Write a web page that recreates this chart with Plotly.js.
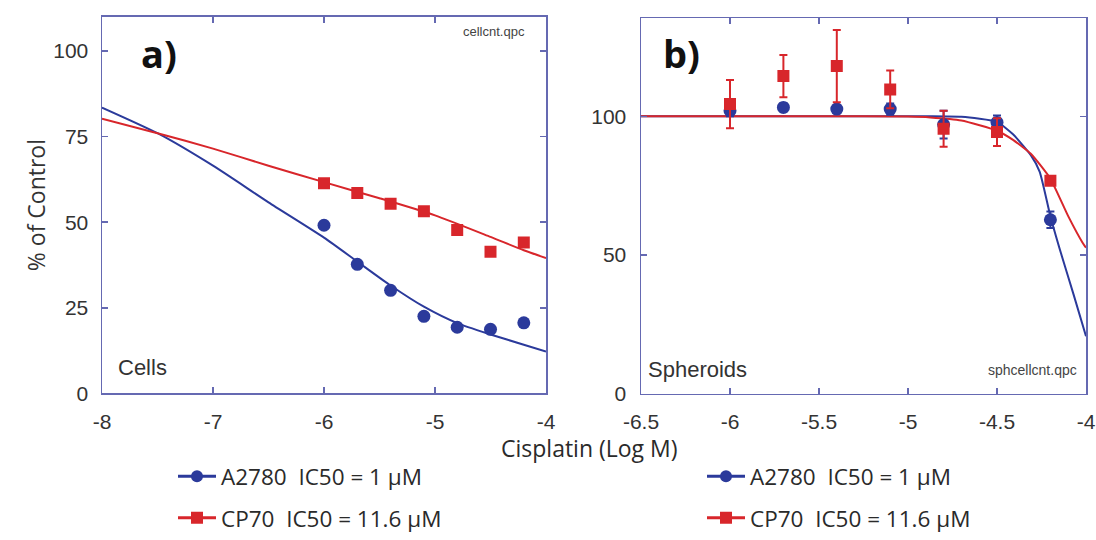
<!DOCTYPE html>
<html>
<head>
<meta charset="utf-8">
<script src="https://cdn.plot.ly/plotly-3.0.1.min.js"></script>
<style>html,body{margin:0;padding:0;background:#fff;}#chart{width:1096px;height:540px;}</style>
</head>
<body>
<div id="chart"></div>
<script>
// ---------- Panel a) Cells ----------
const doseA = [-6, -5.7, -5.4, -5.1, -4.8, -4.5, -4.2];
const cellsA2780 = [49.1, 37.7, 30.1, 22.5, 19.3, 18.7, 20.6];
const cellsCP70 = [61.4, 58.5, 55.4, 53.2, 47.7, 41.4, 44.1];
const fitCellsA2780X = [-8, -7.5, -7, -6.5, -6, -5.7, -5.4, -5.1, -4.8, -4.5, -4.2, -4];
const fitCellsA2780Y = [83.5, 76, 66.5, 55.8, 45.5, 38.5, 31.5, 25.3, 20.5, 17.2, 14.2, 12.2];
const fitCellsCP70X = [-8, -7.5, -7, -6.5, -6, -5.5, -5, -4.5, -4.2, -4];
const fitCellsCP70Y = [80.2, 76, 71.5, 66.5, 61.7, 57, 52, 45.7, 41.8, 39.5];

// ---------- Panel b) Spheroids ----------
const doseB = [-6, -5.7, -5.4, -5.1, -4.8, -4.5, -4.2];
const sphA2780 = [102, 103.2, 102.6, 102.6, 97, 97.8, 62.7];
const sphA2780Err = [2, 1.5, 1.5, 2, 5, 2.5, 3];
const sphCP70 = [104.4, 114.5, 118.1, 109.7, 95.5, 94.3, 76.8];
const sphCP70Err = [8.7, 7.6, 13, 6.8, 6.5, 5, 1.5];
const fitSphA2780X = [-6.5, -6, -5.5, -5, -4.875, -4.7, -4.5, -4.41, -4.31, -4.26, -4.2, -4.14, -4.07, -4];
const fitSphA2780Y = [100, 100, 100, 100, 100, 99.8, 98, 93.5, 86, 80, 64, 50.5, 35.8, 20.7];
const fitSphCP70X = [-6.5, -6, -5.5, -5, -4.875, -4.7, -4.5, -4.41, -4.31, -4.2, -4.1, -4.02, -4];
const fitSphCP70Y = [100, 100, 100, 99.9, 99.6, 98.5, 94.8, 91.5, 86.5, 77.5, 64, 54.5, 52.6];

// ---------- Tick labels / texts ----------
const ticksAX = [-8, -7, -6, -5, -4];
const ticksAY = [0, 25, 50, 75, 100];
const ticksBX = [-6.5, -6, -5.5, -5, -4.5, -4];
const ticksBY = [0, 50, 100];
const legendA2780 = 'A2780\u00a0 IC50 = 1 \u03bcM';
const legendCP70 = 'CP70\u00a0 IC50 = 11.6 \u03bcM';

const BLUE = '#2b3a9b';
const RED = '#d8262b';
const FRAME = '#6569b2';
const W = 1096, H = 540;
const px = v => v / W;
const py = v => 1 - v / H;

const traces = [
  {x: fitCellsA2780X, y: fitCellsA2780Y, mode: 'lines', line: {color: BLUE, width: 2, shape: 'spline', smoothing: 0.6}, xaxis: 'x', yaxis: 'y', showlegend: false, hoverinfo: 'skip'},
  {x: fitCellsCP70X, y: fitCellsCP70Y, mode: 'lines', line: {color: RED, width: 2, shape: 'spline', smoothing: 0.6}, xaxis: 'x', yaxis: 'y', showlegend: false, hoverinfo: 'skip'},
  {x: doseA, y: cellsA2780, mode: 'markers', marker: {color: BLUE, size: 13, symbol: 'circle'}, xaxis: 'x', yaxis: 'y', showlegend: false},
  {x: doseA, y: cellsCP70, mode: 'markers', marker: {color: RED, size: 12, symbol: 'square'}, xaxis: 'x', yaxis: 'y', showlegend: false},

  {x: fitSphA2780X, y: fitSphA2780Y, mode: 'lines', line: {color: BLUE, width: 2, shape: 'spline', smoothing: 0.5}, xaxis: 'x2', yaxis: 'y2', showlegend: false, hoverinfo: 'skip'},
  {x: fitSphCP70X, y: fitSphCP70Y, mode: 'lines', line: {color: RED, width: 2, shape: 'spline', smoothing: 0.5}, xaxis: 'x2', yaxis: 'y2', showlegend: false, hoverinfo: 'skip'},
  {x: doseB, y: sphA2780, mode: 'markers', marker: {color: BLUE, size: 13, symbol: 'circle'},
   error_y: {type: 'data', array: sphA2780Err, visible: true, color: BLUE, thickness: 2, width: 4}, xaxis: 'x2', yaxis: 'y2', showlegend: false},
  {x: doseB, y: sphCP70, mode: 'markers', marker: {color: RED, size: 12, symbol: 'square'},
   error_y: {type: 'data', array: sphCP70Err, visible: true, color: RED, thickness: 2, width: 4}, xaxis: 'x2', yaxis: 'y2', showlegend: false},

  // legend entries
  {x: [null], y: [null], name: legendA2780, mode: 'lines+markers', line: {color: BLUE, width: 3}, marker: {color: BLUE, size: 12, symbol: 'circle'}, xaxis: 'x', yaxis: 'y', legend: 'legend'},
  {x: [null], y: [null], name: legendCP70, mode: 'lines+markers', line: {color: RED, width: 3}, marker: {color: RED, size: 12, symbol: 'square'}, xaxis: 'x', yaxis: 'y', legend: 'legend2'},
  {x: [null], y: [null], name: legendA2780, mode: 'lines+markers', line: {color: BLUE, width: 3}, marker: {color: BLUE, size: 12, symbol: 'circle'}, xaxis: 'x2', yaxis: 'y2', legend: 'legend3'},
  {x: [null], y: [null], name: legendCP70, mode: 'lines+markers', line: {color: RED, width: 3}, marker: {color: RED, size: 12, symbol: 'square'}, xaxis: 'x2', yaxis: 'y2', legend: 'legend4'}
];

const tickFont = {family: 'Liberation Sans, Arial, sans-serif', size: 21, color: '#333'};
const legFont = {family: 'Open Sans, sans-serif', size: 22.5, color: '#2a2a2a'};
const axisCommon = {showline: true, mirror: 'ticks', linecolor: FRAME, linewidth: 1.5, ticks: 'inside', ticklen: 6, tickwidth: 1.5, tickcolor: FRAME, showgrid: false, zeroline: false, tickfont: tickFont, fixedrange: true};
const legCommon = {font: legFont, bgcolor: 'rgba(0,0,0,0)', borderwidth: 0, xanchor: 'left', yanchor: 'middle', orientation: 'v', itemwidth: 38};

const layout = {
  width: W, height: H,
  margin: {l: 0, r: 0, t: 0, b: 0},
  paper_bgcolor: '#fff', plot_bgcolor: '#fff',
  showlegend: true,
  xaxis: Object.assign({}, axisCommon, {domain: [px(102), px(546)], range: [-8, -4], tickvals: ticksAX, ticktext: ticksAX.map(String), anchor: 'y', ticklabelstandoff: 9}),
  yaxis: Object.assign({}, axisCommon, {domain: [py(397), py(17)], range: [0, 110], tickvals: ticksAY, ticktext: ticksAY.map(String), anchor: 'x', ticklabelstandoff: 8,
    title: {text: '% of Control', font: {family: 'Open Sans, sans-serif', size: 23, color: '#333'}, standoff: 1}}),
  xaxis2: Object.assign({}, axisCommon, {domain: [px(641), px(1086)], range: [-6.5, -4], tickvals: ticksBX, ticktext: ticksBX.map(String), anchor: 'y2', ticklabelstandoff: 9}),
  yaxis2: Object.assign({}, axisCommon, {domain: [py(397.3), py(18.3)], range: [0, 135.4], tickvals: ticksBY, ticktext: ticksBY.map(String), anchor: 'x2', ticklabelstandoff: 9}),
  legend: Object.assign({}, legCommon, {x: px(173), y: py(481)}),
  legend2: Object.assign({}, legCommon, {x: px(173), y: py(523)}),
  legend3: Object.assign({}, legCommon, {x: px(702), y: py(481)}),
  legend4: Object.assign({}, legCommon, {x: px(702), y: py(523)}),
  annotations: [
    {xref: 'paper', yref: 'paper', x: px(589), y: py(452), text: 'Cisplatin (Log M)', showarrow: false, xanchor: 'center', yanchor: 'middle', font: {family: 'Open Sans, sans-serif', size: 23, color: '#2a2a2a'}},
    {xref: 'paper', yref: 'paper', x: px(139), y: py(54), text: '<b>a)</b>', showarrow: false, xanchor: 'left', yanchor: 'middle', font: {family: 'Open Sans, sans-serif', size: 38, color: '#111'}},
    {xref: 'paper', yref: 'paper', x: px(661), y: py(54), text: '<b>b)</b>', showarrow: false, xanchor: 'left', yanchor: 'middle', font: {family: 'Open Sans, sans-serif', size: 38, color: '#111'}},
    {xref: 'paper', yref: 'paper', x: px(527), y: py(32), text: 'cellcnt.qpc', showarrow: false, xanchor: 'right', yanchor: 'middle', font: {family: 'Liberation Sans, Arial, sans-serif', size: 13, color: '#444'}},
    {xref: 'paper', yref: 'paper', x: px(1079), y: py(373), text: 'sphcellcnt.qpc', showarrow: false, xanchor: 'right', yanchor: 'middle', font: {family: 'Liberation Sans, Arial, sans-serif', size: 14, color: '#444'}},
    {xref: 'paper', yref: 'paper', x: px(116), y: py(371), text: 'Cells', showarrow: false, xanchor: 'left', yanchor: 'middle', font: {family: 'Liberation Sans, Arial, sans-serif', size: 22, color: '#333'}},
    {xref: 'paper', yref: 'paper', x: px(646), y: py(373), text: 'Spheroids', showarrow: false, xanchor: 'left', yanchor: 'middle', font: {family: 'Liberation Sans, Arial, sans-serif', size: 22, color: '#333'}}
  ]
};

Plotly.newPlot('chart', traces, layout, {displayModeBar: false, staticPlot: true});
</script>
</body>
</html>
